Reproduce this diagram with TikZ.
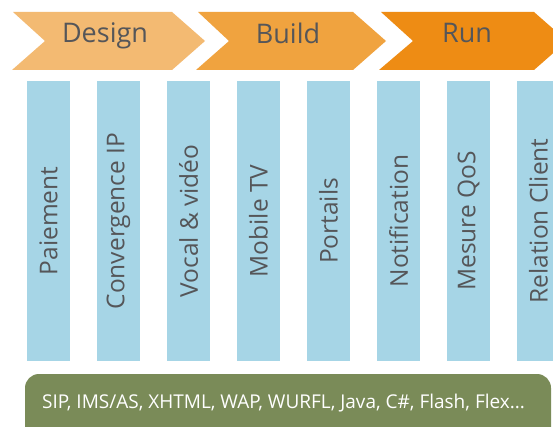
\documentclass[tikz,border=0pt]{standalone}
\usepackage{fontspec}
\setmainfont{Open Sans}
\definecolor{designorange}{HTML}{F3BA72}
\definecolor{buildorange}{HTML}{F0A33F}
\definecolor{runorange}{HTML}{EE8C14}
\definecolor{colblue}{HTML}{A6D5E6}
\definecolor{techgreen}{HTML}{7A8B58}
\definecolor{labelgray}{HTML}{555659}
\begin{document}
\begin{tikzpicture}[x=1pt,y=-1pt]
        \tikzstyle{phase}=[anchor=base,text=labelgray,font=\fontsize{27}{32}\selectfont]
        \tikzstyle{service}=[fill=colblue,rotate=90,minimum width=280pt,minimum height=43pt,inner sep=0pt,text=labelgray,font=\fontsize{24.5}{29}\selectfont]
        \tikzstyle{techbar}=[fill=techgreen,rounded corners=14pt]
       \clip (0,0) rectangle (553,427);
       \fill[white] (0,0) rectangle (553,427);
       % phases
       \fill[designorange] (13,12) -- (172,12) -- (205,41) -- (172,70) -- (12,70) -- (45,41) -- cycle;
       \fill[buildorange] (198,12) -- (353,12) -- (386,41) -- (353,70) -- (196,70) -- (229,41) -- cycle;
       \fill[runorange] (381,12) -- (534,12) -- (567,41) -- (534,70) -- (379,70) -- (413,41) -- cycle;
       \node[phase] (design) at (105,43) {Design};
       \node[phase] (build) at (288,44) {Build};
       \node[phase] (run) at (467,43) {Run};
       % services
       \foreach \name [count=\i] in {Paiement,Convergence IP,Vocal \& vidéo,Mobile TV,Portails,Notification,Mesure QoS,Relation Client}
         \node[service] (s\i) at (48.5+70*\i-70,221) {\name};
       % technologies
       \fill[techbar] (25,374) rectangle (551,450);
       \node[anchor=base west,text=white,font=\fontsize{19}{22}\selectfont,inner sep=0pt] (tech) at (42,408) {SIP, IMS/AS, XHTML, WAP, WURFL, Java, C\#, Flash, Flex...};
\end{tikzpicture}
\end{document}
